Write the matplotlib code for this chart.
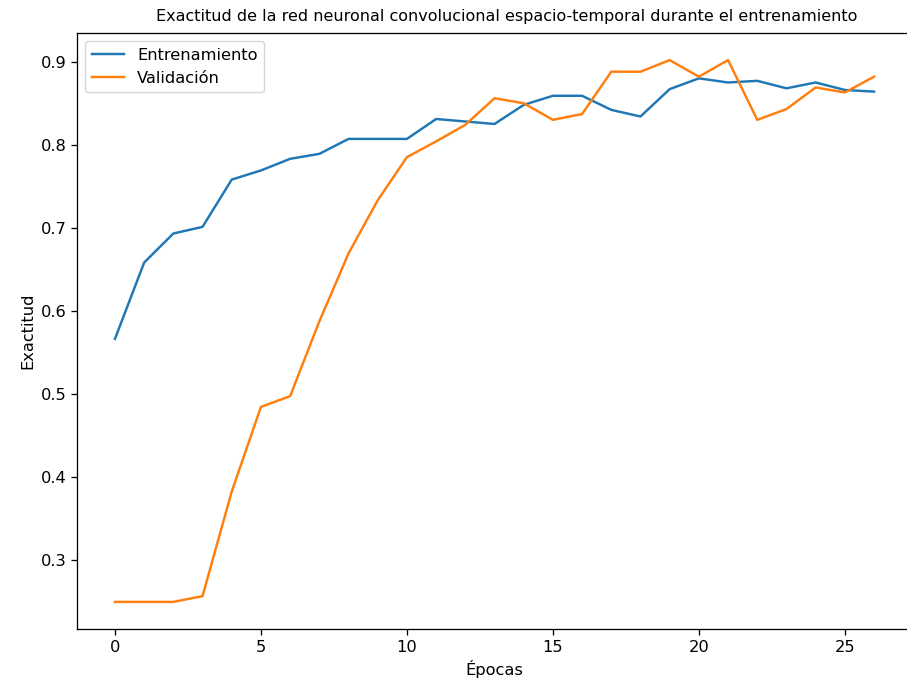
import matplotlib
matplotlib.use("Agg")
import matplotlib.pyplot as plt

epocas = list(range(27))
entrenamiento = [0.566, 0.658, 0.693, 0.701, 0.758, 0.769, 0.783, 0.789, 0.807, 0.807,
                 0.807, 0.831, 0.828, 0.825, 0.848, 0.859, 0.859, 0.842, 0.834, 0.867,
                 0.880, 0.875, 0.877, 0.868, 0.875, 0.866, 0.864]
validacion = [0.249, 0.249, 0.249, 0.256, 0.382, 0.484, 0.497, 0.587, 0.669, 0.733,
              0.785, 0.804, 0.824, 0.856, 0.850, 0.830, 0.837, 0.888, 0.888, 0.902,
              0.882, 0.902, 0.830, 0.843, 0.869, 0.863, 0.882]

# the original looks like a default figure scaled up a bit
s = 1.17
plt.rcParams['font.size'] = 10 * s
plt.rcParams['lines.linewidth'] = 1.5 * s
plt.rcParams['axes.linewidth'] = 0.8 * s
plt.rcParams['xtick.major.size'] = 3.5 * s
plt.rcParams['ytick.major.size'] = 3.5 * s
plt.rcParams['xtick.major.width'] = 0.8 * s
plt.rcParams['ytick.major.width'] = 0.8 * s

fig = plt.figure(figsize=(9.07, 6.84), dpi=100)
ax = fig.add_axes([77 / 907, 55 / 684, 835 / 907, 596 / 684])

ax.plot(epocas, entrenamiento, label='Entrenamiento')
ax.plot(epocas, validacion, label='Validación')
ax.set_xlabel('Épocas')
ax.set_ylabel('Exactitud')
ax.legend(loc='upper left')

fig.text(507 / 907, 1 - 17 / 684, 'Exactitud de la red neuronal convolucional espacio-temporal durante el entrenamiento',
         ha='center', va='center', fontsize=11.5)

fig.savefig('out.png', dpi=100)
